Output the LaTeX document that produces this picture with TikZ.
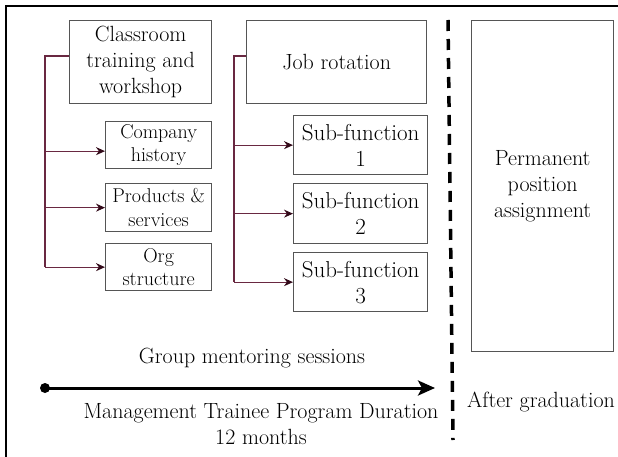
\documentclass[tikz,border=0pt]{standalone}
\usetikzlibrary{arrows.meta}
\definecolor{boxgray}{RGB}{85,85,85}
\definecolor{connred}{RGB}{105,40,65}
\definecolor{tipcol}{RGB}{50,10,25}
\tikzset{
  bigbox/.style={draw=boxgray, line width=1.3pt, align=center, inner sep=0pt, anchor=north west, font=\fontsize{22}{26}\selectfont},
  subbox/.style={bigbox, font=\fontsize{23}{26}\selectfont},
  smallbox/.style={draw=boxgray, line width=1.3pt, align=center, inner sep=0pt, anchor=north west, font=\fontsize{20}{23.5}\selectfont},
  conn/.style={draw=connred, line width=1.1pt},
  connarr/.style={conn, -{Stealth[length=9pt,width=8pt,color=tipcol]}},
  lbl/.style={font=\fontsize{22}{26}\selectfont, align=center, inner sep=0pt},
}
\begin{document}
\begin{tikzpicture}[x=1pt,y=-1pt]
\useasboundingbox (0,0) rectangle (618,457);
% frame
\coordinate (fbl) at (6,457);
\coordinate (ftl) at (6,6);
\coordinate (ftr) at (618,6);
\draw[line width=2.8pt] (fbl) -- (ftl) -- (ftr);

% left column
\node[bigbox, minimum width=142pt, minimum height=83pt] (class) at (69,20) {Classroom\\training and\\workshop};
\node[smallbox, minimum width=106pt, minimum height=47pt] (hist) at (105,121) {Company\\history};
\node[smallbox, minimum width=106pt, minimum height=48pt] (prod) at (105,183) {Products \&\\services};
\node[smallbox, minimum width=106pt, minimum height=47pt] (org) at (105,243) {Org\\structure};

% middle column
\node[bigbox, minimum width=180pt, minimum height=83pt] (job) at (246,20) {Job rotation};
\node[subbox, minimum width=134pt, minimum height=59pt] (sub1) at (293,115) {Sub-function\\1};
\node[subbox, minimum width=134pt, minimum height=60pt] (sub2) at (293,183) {Sub-function\\2};
\node[subbox, minimum width=134pt, minimum height=59pt] (sub3) at (293,252) {Sub-function\\3};

% right column
\node[bigbox, minimum width=142pt, minimum height=331pt] (perm) at (471,20) {Permanent\\position\\assignment};

% left bracket
\coordinate (lb) at (45,56);
\coordinate (ha) at ([yshift=-6pt]hist.west);
\draw[conn] (lb -| class.west) -- (lb) -- (lb |- org.west);
\draw[connarr] (lb |- ha) -- (ha);
\draw[connarr] (lb |- prod.west) -- (prod.west);
\draw[connarr] (lb |- org.west) -- (org.west);

% middle bracket
\coordinate (jb) at (234,56);
\draw[conn] (jb -| job.west) -- (jb) -- (jb |- sub3.west);
\draw[connarr] (jb |- sub1.west) -- (sub1.west);
\draw[connarr] (jb |- sub2.west) -- (sub2.west);
\draw[connarr] (jb |- sub3.west) -- (sub3.west);

% dashed divider
\coordinate (dtop) at (448,20);
\coordinate (dbot) at (453,440);
\draw[line width=3.5pt, dash pattern=on 11pt off 8pt] (dtop) -- (dbot);

% timeline
\node[lbl] (group) at (252,358) {Group mentoring sessions};
\node[circle, fill=black, inner sep=0pt, minimum size=10pt] (start) at (45,388) {};
\coordinate (tend) at (435,388);
\draw[line width=3pt, -{Stealth[length=17pt,width=15pt,inset=4pt]}] (start.center) -- (tend);
\node[lbl] (dur) at (261,424) {Management Trainee Program Duration\\12 months};
\node[lbl, anchor=west] (after) at (467,402) {After graduation};
\end{tikzpicture}
\end{document}
